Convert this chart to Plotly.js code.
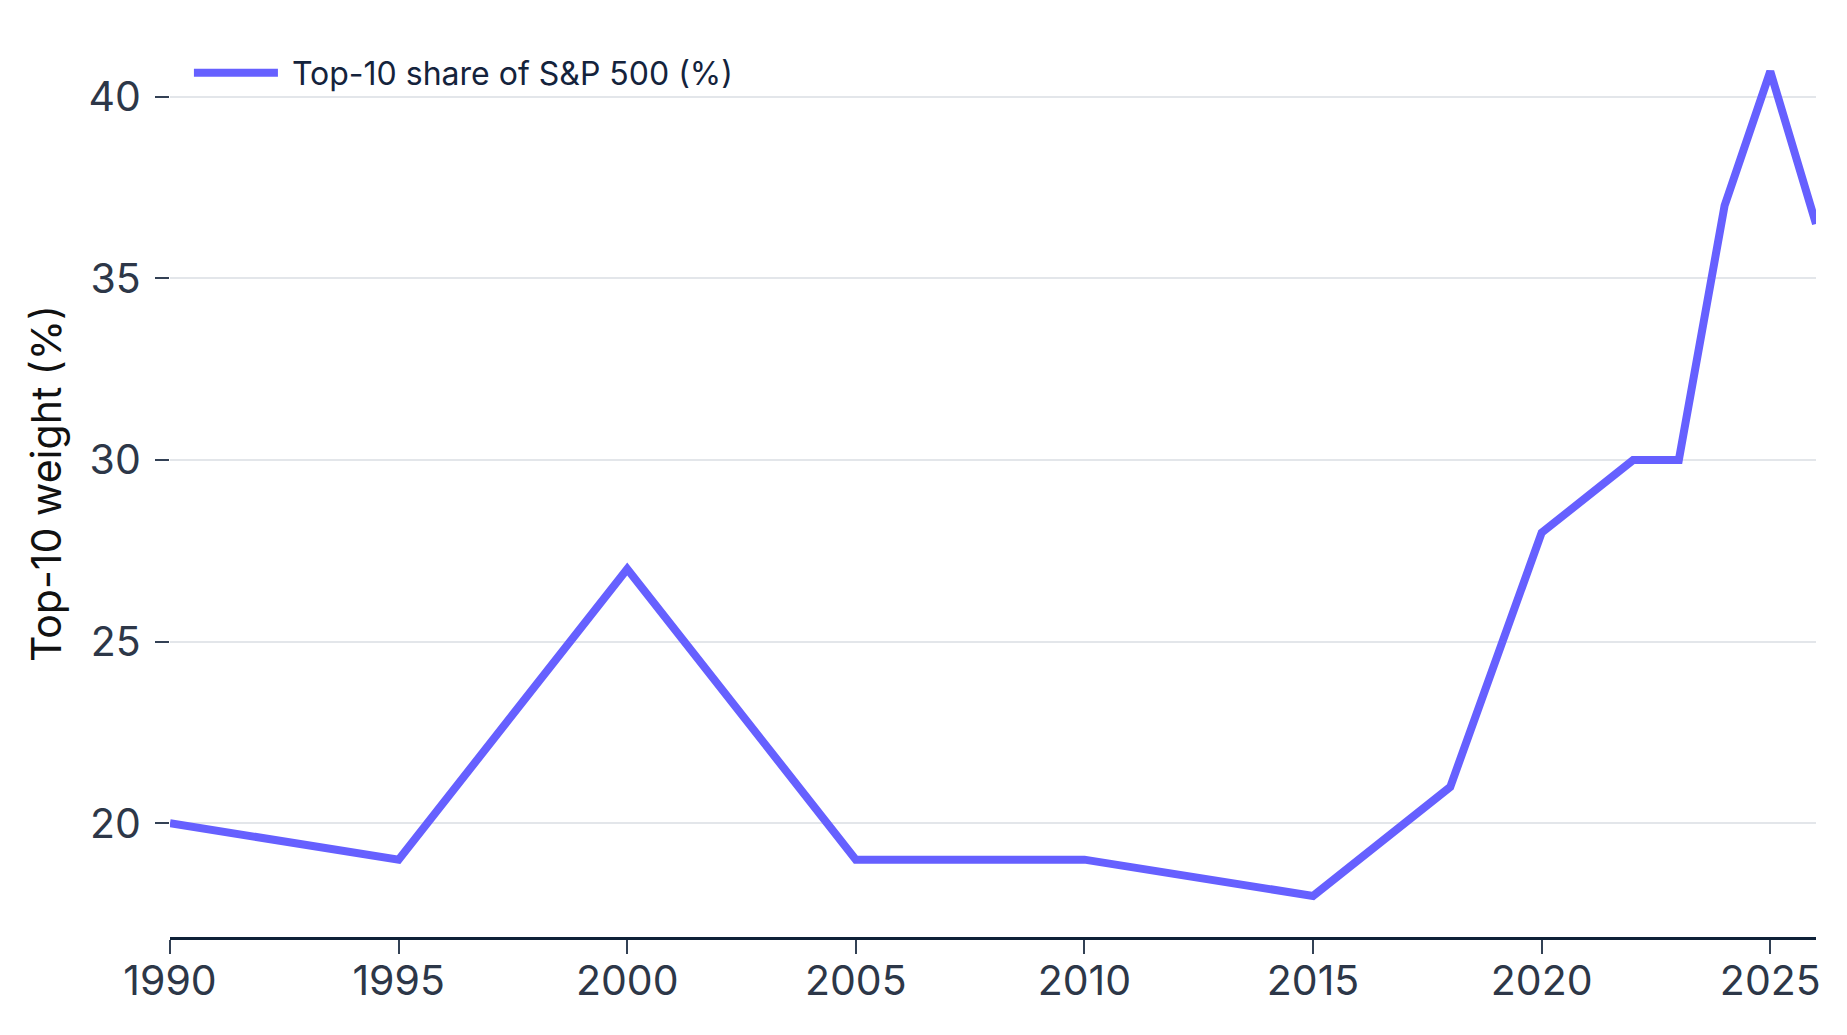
<!DOCTYPE html>
<html>
<head>
<meta charset="utf-8">
<script src="https://cdn.plot.ly/plotly-3.0.1.min.js"></script>
<style>
  html, body { margin: 0; padding: 0; background: #ffffff; }
  #chart { width: 1847px; height: 1035px; }
</style>
</head>
<body>
<div id="chart"></div>
<script>
// Share of the S&P 500 held by its ten largest constituents
const years = [1990, 1995, 2000, 2005, 2010, 2015, 2018, 2020, 2022, 2023, 2024, 2025, 2026];
const top10Share = [20, 19, 27, 19, 19, 18, 21, 28, 30, 30, 37, 40.7, 36.5];
const seriesName = 'Top-10 share of S&P 500 (%)';
const yTitle = 'Top-10 weight (%)';
const xTicks = [1990, 1995, 2000, 2005, 2010, 2015, 2020, 2025];
const yTicks = [20, 25, 30, 35, 40];

const FONT = 'Inter, "Noto Sans", "DejaVu Sans", sans-serif';

const trace = {
  x: years,
  y: top10Share,
  type: 'scatter',
  mode: 'lines',
  name: '\u00a0' + seriesName,
  line: { color: '#6660ff', width: 8, shape: 'linear' },
  showlegend: true
};

const layout = {
  width: 1847,
  height: 1035,
  paper_bgcolor: '#ffffff',
  plot_bgcolor: '#ffffff',
  margin: { l: 170, r: 31, t: 30, b: 98, pad: 0 },
  font: { family: FONT, color: '#2d3748', size: 36 },
  showlegend: true,
  legend: {
    x: 0.0115,
    y: 0.983,
    xanchor: 'left',
    yanchor: 'top',
    bgcolor: 'rgba(0,0,0,0)',
    font: { family: FONT, size: 32, color: '#14233c' },
    itemwidth: 84,
    tracegroupgap: 0
  },
  xaxis: {
    range: [1990, 2026],
    tickmode: 'array',
    tickvals: xTicks,
    ticktext: xTicks.map(String),
    showgrid: false,
    zeroline: false,
    showline: true,
    linecolor: '#0f2138',
    linewidth: 3,
    ticks: 'outside',
    ticklen: 14,
    tickwidth: 2,
    tickcolor: '#334155',
    ticklabelstandoff: -8,
    tickfont: { family: FONT, size: 41, color: '#2d3748' },
    fixedrange: true
  },
  yaxis: {
    range: [16.87, 41.84],
    tickmode: 'array',
    tickvals: yTicks,
    ticktext: yTicks.map(String),
    showgrid: true,
    gridcolor: '#e3e6ea',
    gridwidth: 2,
    zeroline: false,
    showline: false,
    ticks: 'outside',
    ticklen: 14,
    tickwidth: 2,
    tickcolor: '#334155',
    ticklabelstandoff: 6,
    tickfont: { family: FONT, size: 41, color: '#2d3748' },
    title: { text: yTitle, font: { family: FONT, size: 41, color: '#111111' }, standoff: 14 },
    fixedrange: true
  }
};

Plotly.newPlot('chart', [trace], layout, { displayModeBar: false, staticPlot: true });
</script>
</body>
</html>
